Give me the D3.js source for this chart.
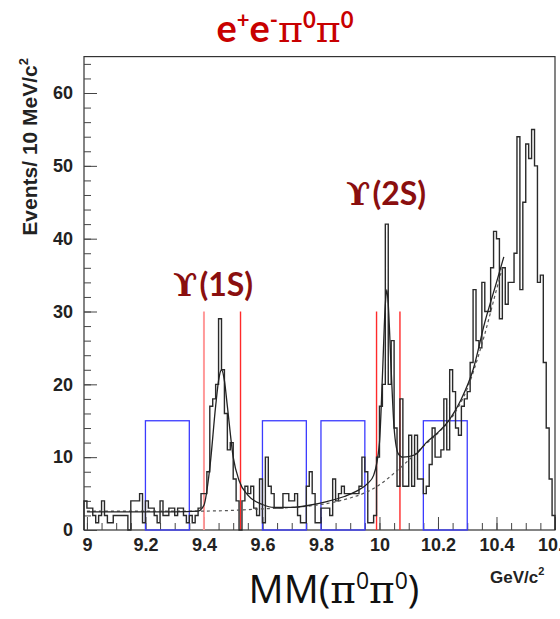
<!DOCTYPE html>
<html>
<head>
<meta charset="utf-8">
<script src="https://cdn.jsdelivr.net/npm/d3@7"></script>
<style>
  html, body { margin: 0; padding: 0; background: #fff; }
  svg { display: block; }
</style>
</head>
<body>
<svg id="chart" width="560" height="619"></svg>
<script>
// Missing-mass spectrum, 10 MeV bins starting at 8.99 GeV
const binStart = 8.99;
const binWidth = 0.01;
const counts = [
  4, 3, 3, 2, 1, 2, 4, 2, 1, 1,
  2, 2, 2, 2, 2, 0, 4, 4, 4, 5,
  1, 4, 3, 3, 2, 1, 4, 2, 2, 3,
  3, 2, 3, 3, 2, 1, 2, 1, 2, 3,
  5, 5, 8, 17, 18, 20, 29, 22, 16, 11,
  12, 7, 4, 0, 4, 6, 5, 6, 3, 2,
  7, 1, 10, 6, 5, 3, 3, 3, 5, 5,
  4, 4, 5, 2, 1, 1, 6, 8, 5, 1,
  1, 3, 3, 3, 2, 7, 4, 5, 6, 5,
  5, 5, 5, 5, 6, 10, 8, 1, 1, 2,
  10, 17, 20, 42, 20, 26, 14, 6, 18, 6,
  6, 13, 6, 13, 7, 7, 5, 6, 9, 14,
  10, 10, 11, 18, 11, 22, 19, 14, 13, 17,
  18, 19, 23, 33, 26, 25, 34, 30, 30, 36,
  41, 40, 29, 36, 31, 34, 34, 38, 54, 33,
  45, 53, 51, 55, 50, 34, 35, 23, 14, 7,
  2
];

// Fit: signal + background (solid)
const fitTotalX = [9.0, 9.1, 9.2, 9.3, 9.38, 9.40, 9.42, 9.44, 9.45, 9.46, 9.47, 9.48, 9.50, 9.52, 9.55, 9.60, 9.64, 9.70, 9.76, 9.82, 9.88, 9.92, 9.96, 9.98, 10.0, 10.01, 10.02, 10.025, 10.03, 10.04, 10.05, 10.064, 10.08, 10.12, 10.16, 10.20, 10.24, 10.28, 10.32, 10.36, 10.40, 10.425];
const fitTotalY = [2.5, 2.5, 2.5, 2.5, 2.6, 3.4, 8.5, 17, 20.5, 22, 20.5, 17, 10, 6.8, 4.8, 3.5, 3.1, 3.1, 3.4, 3.9, 4.6, 5.3, 6.4, 7.5, 12, 21, 31, 33, 31, 22, 14, 10.5, 10, 10.3, 12, 13.4, 15.2, 18, 22, 28.5, 34, 37.5];

// Fit: background only (dashed)
const fitBkgX = [9.0, 9.2, 9.4, 9.5, 9.6, 9.7, 9.8, 9.9, 9.95, 10.0, 10.05, 10.1, 10.15, 10.2, 10.25, 10.3, 10.35, 10.4, 10.42];
const fitBkgY = [2.6, 2.6, 2.6, 2.7, 2.9, 3.1, 3.5, 4.4, 5.1, 6.2, 7.8, 9.6, 11.5, 13.3, 15.6, 19.4, 25.5, 33, 36];

// Sideband boxes (blue) and signal windows (red)
const sidebandLo = [9.20, 9.60, 9.80, 10.15];
const sidebandHi = [9.35, 9.75, 9.95, 10.30];
const sidebandHeight = 15;
const windowEdges = [9.40, 9.525, 9.99, 10.07];
const windowHeight = 30;

const xMajor = [9.0, 9.2, 9.4, 9.6, 9.8, 10.0, 10.2, 10.4, 10.6];
const xLabels = ["9", "9.2", "9.4", "9.6", "9.8", "10", "10.2", "10.4", "10.6"];
const yMajor = [0, 10, 20, 30, 40, 50, 60];

const svg = d3.select("#chart");
const x = d3.scaleLinear().domain([8.99, 10.6]).range([84, 555]);
const y = d3.scaleLinear().domain([0, 65]).range([530, 56.6]);

const axisFont = "Liberation Sans, Arial, sans-serif";

// Frame
svg.append("rect")
  .attr("x", x(8.99)).attr("y", y(65))
  .attr("width", x(10.6) - x(8.99)).attr("height", y(0) - y(65))
  .attr("fill", "none").attr("stroke", "#333").attr("stroke-width", 1.2);

// Axes: ticks point into the frame
const xMinor = d3.range(0, 33).map(i => +(9.0 + i * 0.05).toFixed(2)).filter(v => v <= 10.6);
svg.append("g").attr("transform", `translate(0,${y(0)})`)
  .call(d3.axisBottom(x).tickValues(xMinor).tickSize(-7).tickFormat(""))
  .call(g => g.select(".domain").remove())
  .call(g => g.selectAll("line").attr("stroke", "#444"));
svg.append("g").attr("transform", `translate(0,${y(0)})`)
  .call(d3.axisBottom(x).tickValues(xMajor).tickSize(-13).tickPadding(8)
    .tickFormat((d, i) => xLabels[i]))
  .call(g => g.select(".domain").remove())
  .call(g => g.selectAll("line").attr("stroke", "#444"))
  .call(g => g.selectAll("text").attr("font-family", axisFont)
    .attr("font-weight", "bold").attr("font-size", 18).attr("fill", "#222"));

const yMinor = d3.range(0, 66, 2);
svg.append("g").attr("transform", `translate(${x(8.99)},0)`)
  .call(d3.axisLeft(y).tickValues(yMinor).tickSize(-7).tickFormat(""))
  .call(g => g.select(".domain").remove())
  .call(g => g.selectAll("line").attr("stroke", "#444"));
svg.append("g").attr("transform", `translate(${x(8.99)},0)`)
  .call(d3.axisLeft(y).tickValues(yMajor).tickSize(-13).tickPadding(11))
  .call(g => g.select(".domain").remove())
  .call(g => g.selectAll("line").attr("stroke", "#444"))
  .call(g => g.selectAll("text").attr("font-family", axisFont)
    .attr("font-weight", "bold").attr("font-size", 18).attr("fill", "#222"));

// Sideband boxes
sidebandLo.forEach((lo, i) => {
  svg.append("rect")
    .attr("x", x(lo)).attr("y", y(sidebandHeight))
    .attr("width", x(sidebandHi[i]) - x(lo)).attr("height", y(0) - y(sidebandHeight))
    .attr("fill", "none").attr("stroke", "#3b3bff").attr("stroke-width", 1.3);
});

// Signal window lines
windowEdges.forEach((v, i) => {
  svg.append("line")
    .attr("x1", x(v)).attr("x2", x(v))
    .attr("y1", y(0)).attr("y2", y(windowHeight))
    .attr("stroke", i === 0 ? "#ff9a9a" : "#ff2a2a")
    .attr("stroke-width", i === 0 ? 2 : 1.4);
});

// Histogram outline
const histPts = [[x(binStart), y(0)]];
counts.forEach((c, i) => {
  const x0 = binStart + i * binWidth;
  histPts.push([x(x0), y(c)], [x(x0 + binWidth), y(c)]);
});
histPts.push([x(binStart + counts.length * binWidth), y(0)]);
svg.append("path")
  .attr("d", d3.line()(histPts))
  .attr("fill", "none").attr("stroke", "#2a2a2a").attr("stroke-width", 1.4);

// Fit curves
const curveLine = d3.line().x(d => x(d[0])).y(d => y(d[1])).curve(d3.curveMonotoneX);
svg.append("path")
  .attr("d", curveLine(fitBkgX.map((v, i) => [v, fitBkgY[i]])))
  .attr("fill", "none").attr("stroke", "#555").attr("stroke-width", 1.2)
  .attr("stroke-dasharray", "3,3");
svg.append("path")
  .attr("d", curveLine(fitTotalX.map((v, i) => [v, fitTotalY[i]])))
  .attr("fill", "none").attr("stroke", "#222").attr("stroke-width", 1.3);

// Axis titles
const yTitle = svg.append("text")
  .attr("transform", "translate(37,58) rotate(-90)")
  .attr("text-anchor", "end")
  .attr("font-family", axisFont)
  .attr("font-weight", "bold").attr("font-size", 21).attr("fill", "#222");
yTitle.append("tspan").text("Events/ 10 MeV/c");
yTitle.append("tspan").attr("dy", -9).attr("font-size", 13).text("2");

const xTitle = svg.append("text")
  .attr("x", 490).attr("y", 583)
  .attr("font-family", axisFont)
  .attr("font-weight", "bold").attr("font-size", 17).attr("fill", "#222");
xTitle.append("tspan").text("GeV/c");
xTitle.append("tspan").attr("dy", -8).attr("font-size", 11).text("2");

// Title
const title = svg.append("text")
  .attr("x", 285).attr("y", 42).attr("text-anchor", "middle")
  .attr("font-family", "Lato, Open Sans, sans-serif")
  .attr("font-weight", "bold").attr("font-size", 38).attr("fill", "#c80000");
title.append("tspan").text("e");
title.append("tspan").attr("dy", -14).attr("font-size", 22).text("+");
title.append("tspan").attr("dy", 14).text("e");
title.append("tspan").attr("dy", -14).attr("font-size", 22).text("-");
title.append("tspan").attr("dy", 14).attr("font-family", "DejaVu Serif, serif").attr("font-weight", "normal").text("π");
title.append("tspan").attr("dy", -14).attr("font-size", 22).text("0");
title.append("tspan").attr("dy", 14).attr("font-family", "DejaVu Serif, serif").attr("font-weight", "normal").text("π");
title.append("tspan").attr("dy", -14).attr("font-size", 22).text("0");

// Resonance labels
function resonanceLabel(cx, baseY, state) {
  const t = svg.append("text")
    .attr("x", cx).attr("y", baseY).attr("text-anchor", "middle")
    .attr("font-weight", "bold").attr("font-size", 32).attr("fill", "#8a0f0f");
  t.append("tspan").attr("font-family", "DejaVu Serif, serif").text("ϒ");
  t.append("tspan").attr("font-family", "Lato, Open Sans, sans-serif").attr("dx", 2).text(`(${state})`);
}
resonanceLabel(213, 296, "1S");
resonanceLabel(386, 205, "2S");

// Bottom variable label
const mm = svg.append("text")
  .attr("x", 334).attr("y", 603).attr("text-anchor", "middle")
  .attr("font-family", "Open Sans, Lato, sans-serif")
  .attr("font-size", 39).attr("fill", "#111");
mm.append("tspan").text("MM(");
mm.append("tspan").attr("font-family", "DejaVu Serif, serif").text("π");
mm.append("tspan").attr("dy", -14).attr("font-size", 23).text("0");
mm.append("tspan").attr("dy", 14).attr("font-family", "DejaVu Serif, serif").text("π");
mm.append("tspan").attr("dy", -14).attr("font-size", 23).text("0");
mm.append("tspan").attr("dy", 14).text(")");
</script>
</body>
</html>
